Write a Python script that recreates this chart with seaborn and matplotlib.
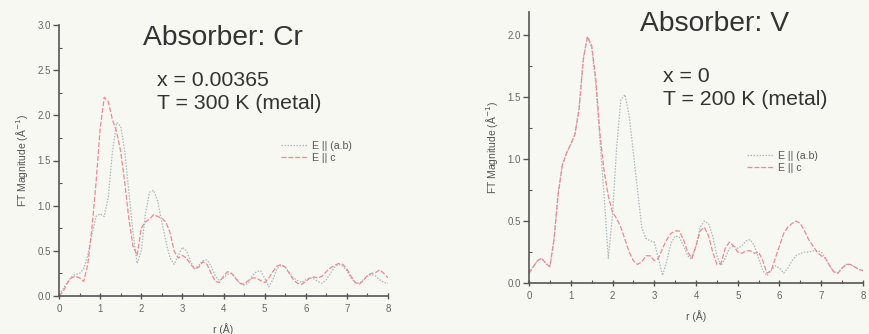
import numpy as np
import pandas as pd
import matplotlib
matplotlib.use("Agg")
import matplotlib.pyplot as plt
from matplotlib.ticker import MultipleLocator
from matplotlib.lines import Line2D
import seaborn as sns

sns.set_theme(style="white")
plt.rcParams['font.family'] = ['Liberation Sans', 'DejaVu Sans']

# ---------------- data ----------------
r = [round(0.1 * i, 1) for i in range(81)]

cr_ab = [0.02, 0.08, 0.15, 0.21, 0.24, 0.25, 0.30, 0.45, 0.68, 0.88,
         0.91, 0.88, 1.10, 1.60, 1.92, 1.88, 1.60, 1.15, 0.70, 0.36,
         0.50, 0.90, 1.15, 1.17, 1.05, 0.82, 0.60, 0.42, 0.35, 0.45,
         0.54, 0.50, 0.38, 0.30, 0.34, 0.39, 0.40, 0.33, 0.22, 0.17,
         0.20, 0.24, 0.25, 0.20, 0.14, 0.12, 0.14, 0.22, 0.27, 0.28,
         0.20, 0.10, 0.18, 0.30, 0.34, 0.32, 0.26, 0.20, 0.17, 0.15,
         0.18, 0.20, 0.19, 0.16, 0.14, 0.18, 0.25, 0.32, 0.35, 0.33,
         0.28, 0.20, 0.15, 0.14, 0.18, 0.22, 0.24, 0.22, 0.18, 0.15, 0.14]

cr_c = [0.00, 0.05, 0.14, 0.20, 0.22, 0.20, 0.16, 0.35, 0.75, 1.25,
        1.85, 2.20, 2.15, 1.95, 1.82, 1.60, 1.25, 0.85, 0.55, 0.45,
        0.75, 0.82, 0.85, 0.90, 0.88, 0.86, 0.82, 0.70, 0.50, 0.42,
        0.45, 0.42, 0.35, 0.30, 0.32, 0.38, 0.35, 0.25, 0.16, 0.15,
        0.22, 0.27, 0.25, 0.19, 0.14, 0.13, 0.17, 0.20, 0.20, 0.17,
        0.15, 0.20, 0.27, 0.33, 0.35, 0.32, 0.25, 0.18, 0.14, 0.13,
        0.16, 0.20, 0.21, 0.20, 0.22, 0.27, 0.31, 0.34, 0.36, 0.35,
        0.30, 0.22, 0.15, 0.13, 0.17, 0.23, 0.25, 0.26, 0.29, 0.25, 0.20]

v_ab = [0.08, 0.13, 0.18, 0.20, 0.16, 0.13, 0.36, 0.73, 0.96, 1.05,
        1.12, 1.20, 1.42, 1.82, 1.98, 1.90, 1.60, 1.15, 0.70, 0.20,
        0.55, 1.10, 1.48, 1.52, 1.35, 1.05, 0.75, 0.45, 0.36, 0.34,
        0.33, 0.20, 0.06, 0.18, 0.32, 0.38, 0.37, 0.30, 0.22, 0.19,
        0.30, 0.45, 0.50, 0.48, 0.38, 0.22, 0.14, 0.20, 0.28, 0.30,
        0.28, 0.30, 0.34, 0.35, 0.30, 0.20, 0.10, 0.06, 0.10, 0.14,
        0.12, 0.08, 0.12, 0.18, 0.22, 0.24, 0.25, 0.25, 0.26, 0.26,
        0.25, 0.20, 0.14, 0.09, 0.08, 0.12, 0.15, 0.15, 0.13, 0.11, 0.10]

v_c = [0.08, 0.13, 0.18, 0.20, 0.16, 0.13, 0.35, 0.72, 0.95, 1.05,
       1.12, 1.20, 1.40, 1.80, 1.99, 1.92, 1.65, 1.20, 0.90, 0.70,
       0.57, 0.52, 0.45, 0.35, 0.25, 0.18, 0.15, 0.17, 0.22, 0.22,
       0.18, 0.20, 0.28, 0.35, 0.40, 0.42, 0.42, 0.35, 0.25, 0.20,
       0.30, 0.42, 0.45, 0.38, 0.25, 0.15, 0.16, 0.28, 0.33, 0.30,
       0.25, 0.24, 0.26, 0.26, 0.24, 0.25, 0.18, 0.08, 0.10, 0.20,
       0.30, 0.40, 0.45, 0.48, 0.50, 0.48, 0.42, 0.35, 0.30, 0.25,
       0.22, 0.20, 0.14, 0.09, 0.08, 0.12, 0.15, 0.15, 0.13, 0.11, 0.10]

series_labels = ["E || (a.b)", "E || c"]
titles = ["Absorber: Cr", "Absorber: V"]
conditions = [["x = 0.00365", "T = 300 K (metal)"], ["x = 0", "T = 200 K (metal)"]]
x_label = "r (Å)"
y_label = "FT Magnitude (Å$^{-1}$)"

# ---------------- styling ----------------
bg = "#f8f8f3"
grey_col = "#a9b8bc"
red_col = "#ee8a90"
txt = "#333333"

fig = plt.figure(figsize=(8.69, 3.34), dpi=100, facecolor=bg)
ax1 = fig.add_axes([59/869, 38/334, 329/869, 271/334])
ax2 = fig.add_axes([529/869, 51/334, 334/869, 271.3/334])

panels = [
    (ax1, cr_ab, cr_c, 3.0, 3.0),
    (ax2, v_ab, v_c, 2.19, 2.0),
]

for i, (ax, ab, c, ytop, ymaxtick) in enumerate(panels):
    ax.set_facecolor(bg)
    df = pd.DataFrame({"r": r * 2, "mag": ab + c,
                       "pol": [series_labels[0]] * len(r) + [series_labels[1]] * len(r)})
    sns.lineplot(data=df, x="r", y="mag", hue="pol", style="pol",
                 palette={series_labels[0]: grey_col, series_labels[1]: red_col},
                 dashes={series_labels[0]: (1.2, 1.2), series_labels[1]: (4, 1.5)},
                 linewidth=0.9, ax=ax, legend=False, sort=False)
    ax.set_xlim(0, 8)
    ax.set_ylim(0, ytop)
    ax.xaxis.set_major_locator(MultipleLocator(1))
    ax.xaxis.set_minor_locator(MultipleLocator(0.5))
    yt = np.arange(0, ymaxtick + 0.01, 0.5)
    ax.set_yticks(yt)
    ax.yaxis.set_minor_locator(MultipleLocator(0.25))
    ax.set_yticklabels([f"{v:.1f}" for v in yt])
    for s in ["top", "right"]:
        ax.spines[s].set_visible(False)
    for s in ["left", "bottom"]:
        ax.spines[s].set_color("#555555")
        ax.spines[s].set_linewidth(1.2)
    ax.tick_params(axis="x", which="major", direction="inout", length=5, width=1,
                   colors="#555555", labelsize=7, labelcolor="#666666", pad=3,
                   bottom=True)
    ax.tick_params(axis="x", which="minor", direction="in", length=2.5, width=0.8,
                   colors="#555555", bottom=True)
    ax.tick_params(axis="y", which="major", direction="out", length=4, width=1,
                   colors="#555555", labelsize=7, labelcolor="#666666", pad=2,
                   left=True)
    ax.tick_params(axis="y", which="minor", direction="in", length=2.5, width=0.8,
                   colors="#555555", left=True)
    ax.set_xlabel(x_label, fontsize=7.5, color="#555555", labelpad=7)
    ax.set_ylabel(y_label, fontsize=7.5, color="#555555", labelpad=5)

# titles & annotations (figure coords in px from top-left)
def ftext(x, y, s, size, **kw):
    fig.text(x / 869, 1 - y / 334, s, fontsize=size, color=txt, va="center", **kw)

ftext(143, 38, titles[0], 20.3)
ftext(157, 80, conditions[0][0], 15.3)
ftext(157, 103, conditions[0][1], 15.3)
ftext(640, 24, titles[1], 20.3)
ftext(663, 77, conditions[1][0], 15.3)
ftext(663, 100, conditions[1][1], 15.3)

# legends
handles = [Line2D([], [], color=grey_col, lw=0.9, dashes=(1.2, 1.2)),
           Line2D([], [], color=red_col, lw=0.9, dashes=(4, 1.5))]
for ax, (lx, ly) in [(ax1, (281, 141)), (ax2, (747, 151))]:
    leg = ax.legend(handles, series_labels, loc="upper left",
                    bbox_to_anchor=(lx / 869, 1 - ly / 334), bbox_transform=fig.transFigure,
                    frameon=False, fontsize=7.6, handlelength=2.5, handletextpad=0.4,
                    labelspacing=0.15, borderpad=0, borderaxespad=0)
    for t in leg.get_texts():
        t.set_color("#555555")

fig.savefig("out.png", dpi=100, facecolor=bg)
